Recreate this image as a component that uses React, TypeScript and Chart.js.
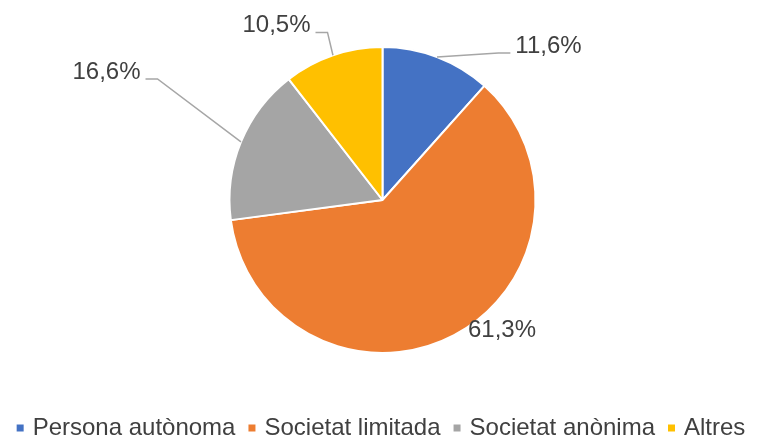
import { useEffect, useRef } from 'react';
import { Chart, registerables } from 'chart.js';

Chart.register(...registerables);

// ---- data ----
const categories = ['Persona autònoma', 'Societat limitada', 'Societat anònima', 'Altres'];
const shares = [11.6, 61.3, 16.6, 10.5];
const valueLabels = ['11,6%', '61,3%', '16,6%', '10,5%'];
const colors = ['#4472C4', '#ED7D31', '#A5A5A5', '#FFC000'];

// label placement relative to the pie centre, in units of the pie radius
const labelOffsetX = [1.085, 0.781, -1.804, -0.693];
const labelOffsetY = [-1.007, 0.85, -0.837, -1.141];
const hasLeader = [true, false, true, true];

const FONT = '"Liberation Sans", Arial, sans-serif';
const TEXT_COLOR = '#404040';

const labelPlugin = {
  id: 'pieValueLabels',
  afterDatasetsDraw(chart: any) {
    const ctx = chart.ctx as CanvasRenderingContext2D;
    const meta = chart.getDatasetMeta(0);
    ctx.save();
    ctx.font = `24px ${FONT}`;
    ctx.textAlign = 'center';
    ctx.textBaseline = 'middle';
    meta.data.forEach((arc: any, i: number) => {
      const { x, y, startAngle, endAngle, outerRadius } = arc.getProps(
        ['x', 'y', 'startAngle', 'endAngle', 'outerRadius'],
        true
      );
      const mid = (startAngle + endAngle) / 2;
      const lx = x + labelOffsetX[i] * outerRadius;
      const ly = y + labelOffsetY[i] * outerRadius;
      const text = valueLabels[i];
      const w = ctx.measureText(text).width;
      if (hasLeader[i]) {
        const ex = x + outerRadius * Math.cos(mid);
        const ey = y + outerRadius * Math.sin(mid);
        const left = lx < x;
        const endX = left ? lx + w / 2 + 5 : lx - w / 2 - 5;
        const elbowX = left ? endX + 12 : endX - 12;
        const endY = ly + 7;
        ctx.beginPath();
        ctx.moveTo(ex, ey);
        ctx.lineTo(elbowX, endY);
        ctx.lineTo(endX, endY);
        ctx.strokeStyle = '#A6A6A6';
        ctx.lineWidth = 1.5;
        ctx.stroke();
      }
      ctx.fillStyle = TEXT_COLOR;
      ctx.fillText(text, lx, ly);
    });
    ctx.restore();
  },
};

export default function App() {
  const canvasRef = useRef<HTMLCanvasElement | null>(null);

  useEffect(() => {
    if (!canvasRef.current) return;
    const chart = new Chart(canvasRef.current, {
      type: 'pie',
      data: {
        labels: categories,
        datasets: [
          {
            data: shares,
            backgroundColor: colors,
            borderColor: '#FFFFFF',
            borderWidth: 2,
            radius: 153,
          } as any,
        ],
      },
      options: {
        responsive: false,
        animation: false,
        devicePixelRatio: 1,
        layout: { padding: 0 },
        plugins: {
          tooltip: { enabled: false },
          legend: {
            position: 'bottom',
            labels: {
              usePointStyle: true,
              pointStyle: 'rect',
              boxWidth: 1,
              boxHeight: 7,
              padding: 16,
              color: TEXT_COLOR,
              font: { size: 24, family: FONT },
              generateLabels: () =>
                categories.map((c, i) => ({
                  text: c,
                  fillStyle: colors[i],
                  strokeStyle: colors[i],
                  lineWidth: 0,
                  pointStyle: 'rect',
                  hidden: false,
                  index: i,
                  fontColor: TEXT_COLOR,
                })),
            },
          },
        },
      },
      plugins: [labelPlugin],
    });
    return () => chart.destroy();
  }, []);

  return (
    <div
      style={{
        position: 'fixed',
        left: 0,
        top: 0,
        width: 765,
        height: 437,
        overflow: 'hidden',
        background: '#FFFFFF',
      }}
    >
      <canvas ref={canvasRef} width={765} height={450} style={{ display: 'block' }} />
    </div>
  );
}
